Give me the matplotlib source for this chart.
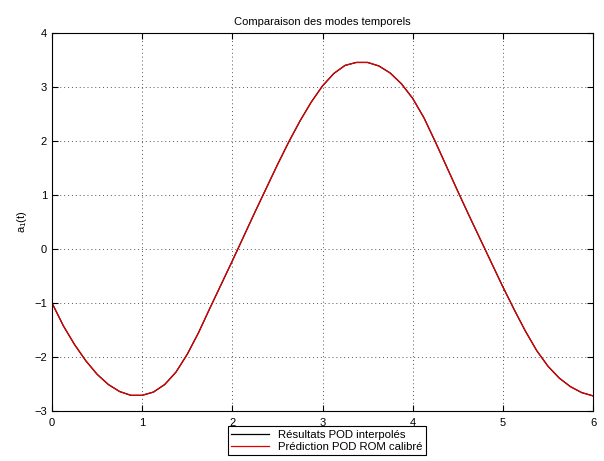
import numpy as np
import matplotlib
matplotlib.use("Agg")
import matplotlib.pyplot as plt

plt.rcParams['font.family'] = ['Liberation Sans', 'DejaVu Sans']
plt.rcParams['mathtext.fontset'] = 'custom'
plt.rcParams['mathtext.rm'] = 'Liberation Sans'
plt.rcParams['mathtext.it'] = 'Liberation Sans'

# valeurs
t = [0.000, 0.125, 0.250, 0.375, 0.500, 0.625, 0.750, 0.875, 1.000, 1.125, 1.250,
     1.375, 1.500, 1.625, 1.750, 1.875, 2.000, 2.125, 2.250, 2.375, 2.500, 2.625,
     2.750, 2.875, 3.000, 3.125, 3.250, 3.375, 3.500, 3.625, 3.750, 3.875, 4.000,
     4.125, 4.250, 4.375, 4.500, 4.625, 4.750, 4.875, 5.000, 5.125, 5.250, 5.375,
     5.500, 5.625, 5.750, 5.875, 6.000]
a1_pod = [-1.00, -1.42, -1.77, -2.07, -2.32, -2.51, -2.64, -2.71, -2.71, -2.65, -2.51,
          -2.28, -1.95, -1.55, -1.10, -0.66, -0.22, 0.23, 0.68, 1.12, 1.56, 1.98,
          2.37, 2.72, 3.02, 3.25, 3.40, 3.455, 3.455, 3.39, 3.26, 3.06, 2.79,
          2.43, 1.99, 1.53, 1.07, 0.62, 0.18, -0.26, -0.70, -1.12, -1.52, -1.88,
          -2.17, -2.39, -2.55, -2.66, -2.72]
a1_rom = list(a1_pod)

fig = plt.figure(figsize=(6.04, 4.61), dpi=100)
ax = fig.add_axes([0.0861, 0.1085, 0.8957, 0.8199])

ax.plot(t, a1_pod, color='black', linewidth=0.9, label='Résultats POD interpolés')
ax.plot(t, a1_rom, color='#e00000', linewidth=0.9, label='Prédiction POD ROM calibré')

ax.set_xlim(0, 6)
ax.set_ylim(-3, 4)
ax.set_xticks(range(0, 7))
ax.set_yticks(range(-3, 5))
ax.grid(True, linestyle=(0, (1, 3)), color='#555555', linewidth=0.7)
ax.tick_params(direction='in', top=True, right=True, labelsize=8, length=4)
ax.tick_params(axis='x', pad=5)
ax.set_title('Comparaison des modes temporels', fontsize=8)
ax.set_ylabel('a$_1$(t)', fontsize=8)
for s in ax.spines.values():
    s.set_linewidth(0.8)

leg = fig.legend(loc='lower center', bbox_to_anchor=(0.541, 0.0), fontsize=8.2,
                 fancybox=False, edgecolor='black', framealpha=1,
                 handlelength=3.3, borderpad=0.3, labelspacing=0.2)
leg.get_frame().set_linewidth(0.8)

plt.savefig("out.png", dpi=100)
plt.close()
